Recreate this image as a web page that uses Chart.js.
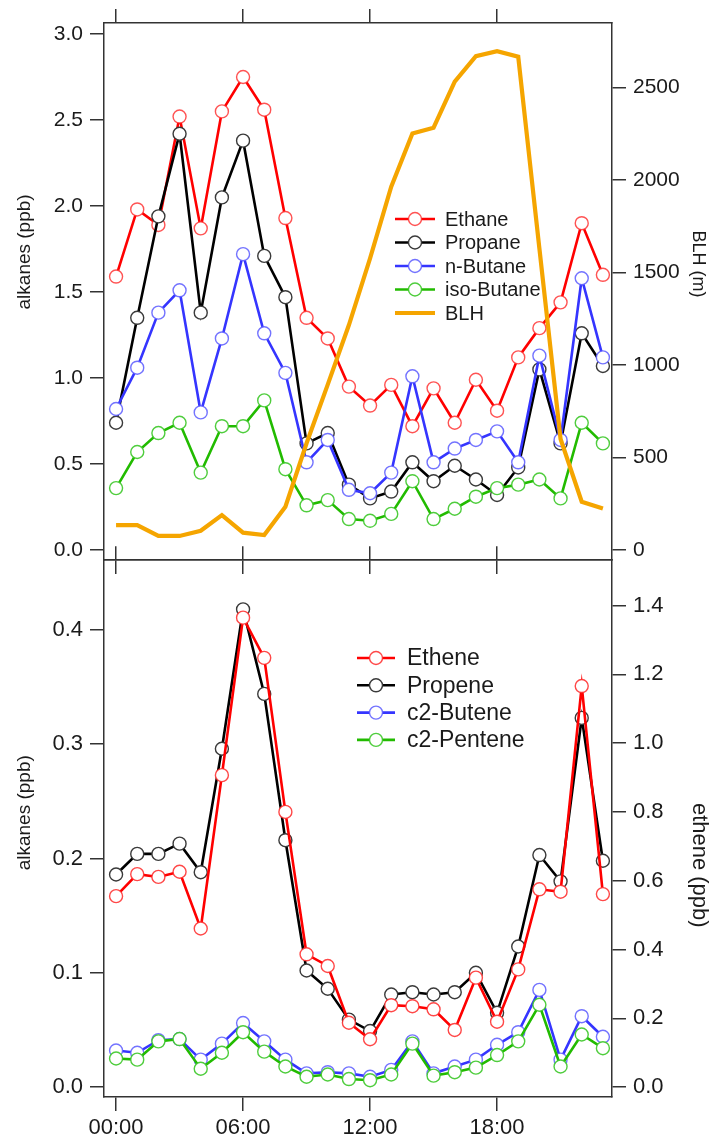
<!DOCTYPE html>
<html><head><meta charset="utf-8">
<script src="https://cdn.jsdelivr.net/npm/chart.js@4/dist/chart.umd.min.js"></script>
<style>
html,body{margin:0;padding:0;background:#fff;}
#wrap{position:relative;width:717px;height:1145px;overflow:hidden;background:#fff;}
canvas{position:absolute;left:0;}
#c1{top:0;}
#c2{top:540px;}
</style></head><body>
<div id="wrap"><canvas id="c1" width="717" height="580"></canvas><canvas id="c2" width="717" height="605"></canvas></div>
<script>
// ---------- data ----------
const hours = [0,1,2,3,4,5,6,7,8,9,10,11,12,13,14,15,16,17,18,19,20,21,22,23];
const ethane    = [1.59,1.98,1.89,2.52,1.87,2.55,2.75,2.56,1.93,1.35,1.23,0.95,0.84,0.96,0.72,0.94,0.74,0.99,0.81,1.12,1.29,1.44,1.90,1.60];
const propane   = [0.74,1.35,1.94,2.42,1.38,2.05,2.38,1.71,1.47,0.62,0.68,0.38,0.30,0.34,0.51,0.40,0.49,0.41,0.32,0.48,1.05,0.62,1.26,1.07];
const nButane   = [0.82,1.06,1.38,1.51,0.80,1.23,1.72,1.26,1.03,0.51,0.64,0.35,0.33,0.45,1.01,0.51,0.59,0.64,0.69,0.51,1.13,0.64,1.58,1.12];
const isoButane = [0.36,0.57,0.68,0.74,0.45,0.72,0.72,0.87,0.47,0.26,0.29,0.18,0.17,0.21,0.40,0.18,0.24,0.31,0.36,0.38,0.41,0.30,0.74,0.62];
const blh       = [135,135,76,76,104,189,94,81,234,577,894,1216,1576,1964,2252,2283,2532,2670,2697,2667,1630,600,261,225];

const ethene    = [0.555,0.619,0.611,0.626,0.461,0.907,1.365,1.248,0.800,0.386,0.352,0.187,0.139,0.238,0.235,0.226,0.166,0.318,0.190,0.342,0.575,0.568,1.166,0.561];
const propene   = [0.186,0.204,0.204,0.213,0.188,0.296,0.418,0.344,0.216,0.102,0.086,0.059,0.049,0.081,0.083,0.081,0.083,0.100,0.065,0.123,0.203,0.180,0.323,0.198];
const c2Butene  = [0.032,0.030,0.041,0.042,0.024,0.038,0.056,0.040,0.024,0.012,0.013,0.012,0.009,0.015,0.040,0.012,0.018,0.024,0.037,0.048,0.085,0.024,0.062,0.044];
const c2Pentene = [0.025,0.024,0.040,0.042,0.016,0.030,0.048,0.031,0.018,0.009,0.011,0.007,0.006,0.011,0.038,0.010,0.013,0.017,0.028,0.040,0.072,0.018,0.046,0.034];

const xTickValues = [0,6,12,18];
const xTickLabels = ['00:00','06:00','12:00','18:00'];
const topLeftTicks  = [0,0.5,1,1.5,2,2.5,3];
const topLeftLabels = ['0.0','0.5','1.0','1.5','2.0','2.5','3.0'];
const topRightTicks  = [0,500,1000,1500,2000,2500];
const topRightLabels = ['0','500','1000','1500','2000','2500'];
const botLeftTicks  = [0,0.1,0.2,0.3,0.4];
const botLeftLabels = ['0.0','0.1','0.2','0.3','0.4'];
const botRightTicks  = [0,0.2,0.4,0.6,0.8,1.0,1.2,1.4];
const botRightLabels = ['0.0','0.2','0.4','0.6','0.8','1.0','1.2','1.4'];

// ---------- helpers ----------
const FONT = "'Liberation Sans', Arial, Helvetica, sans-serif";
const AX = '#333';
const TXT = '#1a1a1a';
function pts(vals){ return hours.map((h,i)=>({x:h, y:vals[i]})); }
function fixTicks(values){ return s => { s.ticks = values.map(v=>({value:v})); }; }
function labelFrom(values, labels){ return v => { const i = values.indexOf(v); return i < 0 ? '' : labels[i]; }; }
function ds(label, vals, line, mark, axis, order){
  return {label, data: pts(vals), yAxisID: axis, xAxisID: 'x', borderColor: line, backgroundColor: line,
    borderWidth: 2.6, pointRadius: 6.5, pointHoverRadius: 6.5, pointBorderColor: mark,
    pointBackgroundColor: '#ffffff', pointBorderWidth: 1.4, tension: 0, order, fill: false};
}
function grid(){ return {drawOnChartArea:false, drawTicks:true, tickLength:14, color:AX, lineWidth:1.5}; }
function border(){ return {display:true, color:AX, width:1.5}; }
function xAxis(pos, h, showLabels, size){
  return {type:'linear', position:pos, min:-0.57, max:23.43,
    afterBuildTicks: fixTicks(xTickValues),
    ticks:{display:showLabels, autoSkip:false, maxRotation:0, padding:4, color:TXT,
      font:{family:FONT, size:size||22}, callback: labelFrom(xTickValues, xTickLabels)},
    grid: grid(), border: border(), afterFit: s => { s.height = h; }};
}
function yAxis(pos, min, max, tv, tl, w, title, tsize, fsize, tpad){
  return {type:'linear', position:pos, min, max,
    afterBuildTicks: fixTicks(tv),
    ticks:{autoSkip:false, padding:7, color:TXT, font:{family:FONT, size:fsize}, callback: labelFrom(tv, tl)},
    grid: grid(), border: border(),
    title:{display:true, text:title, color:TXT, font:{family:FONT, size:tsize}, padding:{top:tpad, bottom:0}},
    afterFit: s => { s.width = w; }};
}

// legend drawn at fixed spot inside the plot, from dataset styles
const pinLegend = {
  id:'pinLegend',
  afterDraw(chart, args, o){
    const ctx = chart.ctx;
    ctx.save();
    o.order.forEach((lab, i) => {
      const d = chart.data.datasets.find(t => t.label === lab);
      const y = o.y0 + i*o.dy;
      ctx.beginPath();
      ctx.strokeStyle = d.borderColor;
      ctx.lineWidth = d.borderWidth;
      ctx.moveTo(o.x1, y); ctx.lineTo(o.x2, y); ctx.stroke();
      if (d.pointRadius > 0) {
        ctx.beginPath();
        ctx.arc(o.xc, y, d.pointRadius, 0, Math.PI*2);
        ctx.fillStyle = d.pointBackgroundColor; ctx.fill();
        ctx.lineWidth = d.pointBorderWidth; ctx.strokeStyle = d.pointBorderColor; ctx.stroke();
      }
      ctx.fillStyle = TXT;
      ctx.font = o.size + 'px ' + FONT;
      ctx.textBaseline = 'middle';
      ctx.textAlign = 'left';
      ctx.fillText(lab, o.xt, y + 1);
    });
    ctx.restore();
  }
};

const common = {responsive:false, animation:false, devicePixelRatio:1, layout:{padding:0},
  events:[], plugins:{legend:{display:false}, tooltip:{enabled:false}}};

// ---------- top chart ----------
const blhSet = {label:'BLH', data: pts(blh), yAxisID:'yR', xAxisID:'x', borderColor:'#F5A500', backgroundColor:'#F5A500',
  borderWidth:4.2, pointRadius:0, tension:0, order:0, fill:false};
new Chart(document.getElementById('c1'), {
  type:'line',
  data:{datasets:[
    ds('Ethane', ethane, '#ff0000', 'rgba(255,40,40,0.8)', 'y', 4),
    ds('Propane', propane, '#000000', '#3a3a3a', 'y', 3),
    ds('n-Butane', nButane, '#3535ff', 'rgba(90,90,255,0.85)', 'y', 2),
    ds('iso-Butane', isoButane, '#22bb00', 'rgba(60,200,40,0.9)', 'y', 1),
    blhSet
  ]},
  options:Object.assign({}, common, {
    scales:{
      x: xAxis('bottom', 20, false),
      xTop: xAxis('top', 23, false),
      y: yAxis('left', -0.058, 3.064, topLeftTicks, topLeftLabels, 104, '               alkanes (ppb)', 19, 21, 13),
      yR: yAxis('right', -54, 2849, topRightTicks, topRightLabels, 105, 'BLH (m)           ', 18, 21, 8)
    },
    plugins:{legend:{display:false}, tooltip:{enabled:false},
      pinLegend:{order:['Ethane','Propane','n-Butane','iso-Butane','BLH'], x1:395, x2:435, xc:415, xt:445, y0:219, dy:23.5, size:20}}
  }),
  plugins:[pinLegend]
});

// ---------- bottom chart ----------
new Chart(document.getElementById('c2'), {
  type:'line',
  data:{datasets:[
    ds('Ethene', ethene, '#ff0000', 'rgba(255,40,40,0.85)', 'yR', 0),
    ds('Propene', propene, '#000000', '#3a3a3a', 'y', 1),
    ds('c2-Butene', c2Butene, '#3535ff', 'rgba(90,90,255,0.85)', 'y', 3),
    ds('c2-Pentene', c2Pentene, '#22bb00', 'rgba(60,200,40,0.9)', 'y', 2)
  ]},
  options:Object.assign({}, common, {
    scales:{
      xTop: xAxis('top', 20, false),
      x: xAxis('bottom', 48, true, 22),
      y: yAxis('left', -0.0087, 0.461, botLeftTicks, botLeftLabels, 104, '      alkanes (ppb)', 19, 22, 13),
      yR: yAxis('right', -0.029, 1.532, botRightTicks, botRightLabels, 105, '            ethene (ppb)', 22, 22, 5)
    },
    plugins:{legend:{display:false}, tooltip:{enabled:false},
      pinLegend:{order:['Ethene','Propene','c2-Butene','c2-Pentene'], x1:357, x2:395, xc:376, xt:407, y0:118, dy:27.3, size:23}}
  }),
  plugins:[pinLegend]
});
</script>
</body></html>
